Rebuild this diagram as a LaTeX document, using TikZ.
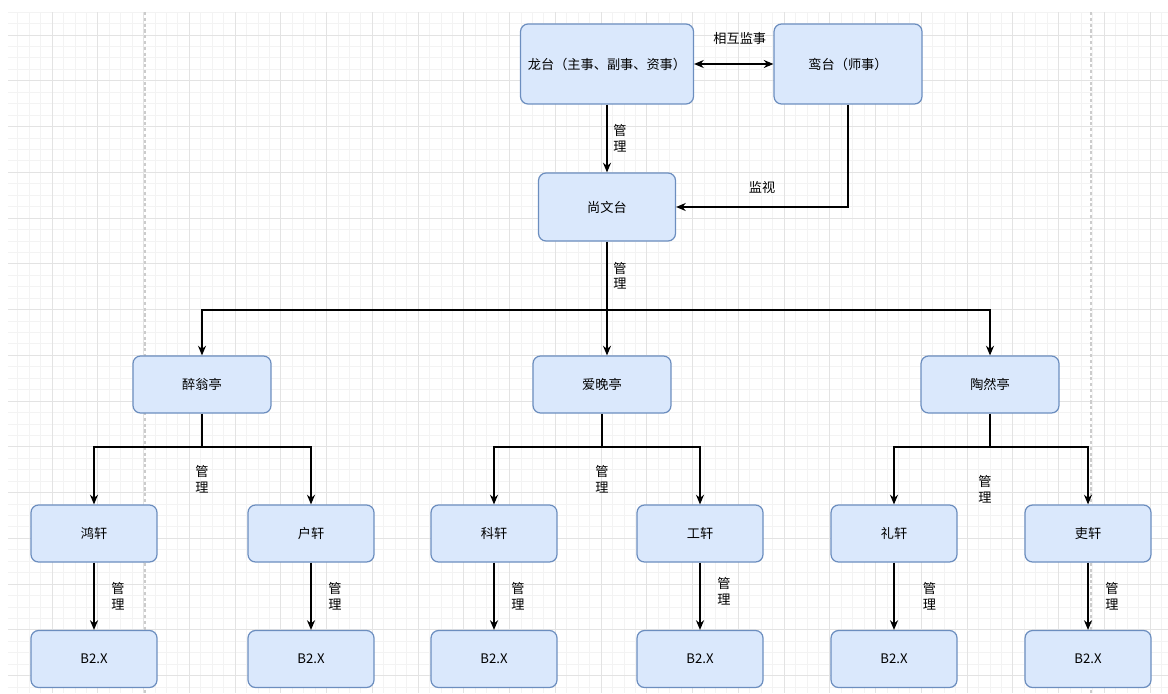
\documentclass[tikz,border=0pt]{standalone}
\usepackage{fontspec}
\setmainfont{Noto Sans CJK SC}
\usepackage{xcolor}
\usetikzlibrary{positioning,arrows.meta}
\definecolor{boxfill}{HTML}{DAE8FC}
\definecolor{boxline}{HTML}{6C8EBF}
\definecolor{gridminor}{HTML}{F3F3F3}
\definecolor{gridmajor}{HTML}{E3E3E3}
\definecolor{pageline}{HTML}{CCCCCC}
\tikzset{box/.style={rectangle,rounded corners=0.15cm,draw=boxline,fill=boxfill,line width=0.7pt,
    minimum width=2.52cm,minimum height=1.14cm,font=\fontsize{7.5pt}{9pt}\selectfont}}
\tikzset{ting/.style={box,minimum width=2.76cm}}
\tikzset{lbl/.style={align=center,font=\fontsize{7.5pt}{9pt}\selectfont}}
\tikzset{link/.style={line width=0.7pt}}

\begin{document}
\begin{tikzpicture}[>={Stealth[length=5.5pt,width=4.6pt]},x=0.02cm,y=-0.02cm]
    \useasboundingbox (0,0) rectangle (1168,693);
    % background grid
    \begin{scope}
    \clip (8,12) rectangle (1168,693);
    \foreach \i in {0,...,101}
        \draw[gridminor,line width=0.4pt] ({6.25+11.4375*\i},12) -- ({6.25+11.4375*\i},693);
    \foreach \j in {0,...,59}
        \draw[gridminor,line width=0.4pt] (8,{12.1+11.4375*\j}) -- (1168,{12.1+11.4375*\j});
    \foreach \i in {0,...,25}
        \draw[gridmajor,line width=0.5pt] ({6.25+45.75*\i},12) -- ({6.25+45.75*\i},693);
    \foreach \j in {1,...,15}
        \draw[gridmajor,line width=0.5pt] (8,{-10.75+45.75*\j}) -- (1168,{-10.75+45.75*\j});
    \draw[pageline,dash pattern=on 1.8pt off 1.5pt,line width=0.6pt] (145,12) -- (145,693);
    \draw[pageline,dash pattern=on 1.8pt off 1.5pt,line width=0.6pt] (1091,12) -- (1091,693);
    \end{scope}

    \node[box,minimum width=3.46cm,minimum height=1.6cm] (lt) at (607,64) {龙台（主事、副事、资事）};
    \node[box,minimum width=2.96cm,minimum height=1.6cm] (lu) at (848,64) {鸾台（师事）};
    \node[box,minimum width=2.74cm,minimum height=1.36cm] (sw) at (607,207) {尚文台};

    \node[ting] (zw) at (202,384.5) {醉翁亭};
    \node[ting] (aw) at (602,384.5) {爱晚亭};
    \node[ting] (tr) at (990,384.5) {陶然亭};

    \node[box] (hx) at (94,533.5) {鸿轩};
    \node[box] (hu) at (311,533.5) {户轩};
    \node[box] (kx) at (494,533.5) {科轩};
    \node[box] (gx) at (700,533.5) {工轩};
    \node[box] (lx) at (894,533.5) {礼轩};
    \node[box] (li) at (1088,533.5) {吏轩};

    \node[box] (b1) at (94,659) {B2.X};
    \node[box] (b2) at (311,659) {B2.X};
    \node[box] (b3) at (494,659) {B2.X};
    \node[box] (b4) at (700,659) {B2.X};
    \node[box] (b5) at (894,659) {B2.X};
    \node[box] (b6) at (1088,659) {B2.X};

    \coordinate (bus) at (607,310);
    \coordinate (zwbus) at (202,447);
    \coordinate (awbus) at (602,447);
    \coordinate (trbus) at (990,447);

    \draw[link,<->] (lt) -- node[lbl,above=0.26cm,xshift=0.12cm] (m0) {相互监事} (lu);
    \draw[link,->] (lt) -- node[lbl,right] (m1) {管\\理} (sw);
    \draw[link,->] (lu.south) |- node[lbl,pos=0.75,above=0.14cm] (m2) {监视} (sw.east);

    \draw[link] (sw) -- node[lbl,right] (m3) {管\\理} (bus);
    \draw[link,->] (bus) -| (zw.north);
    \draw[link,->] (bus) -- (aw.north -| bus);
    \draw[link,->] (bus) -| (tr.north);

    \draw[link] (zw) -- node[lbl,below=0.24cm,pos=1] (m4) {管\\理} (zwbus);
    \draw[link,->] (zwbus) -| (hx.north);
    \draw[link,->] (zwbus) -| (hu.north);
    \draw[link] (aw) -- node[lbl,below=0.24cm,pos=1] (m5) {管\\理} (awbus);
    \draw[link,->] (awbus) -| (kx.north);
    \draw[link,->] (awbus) -| (gx.north);
    \draw[link] (tr) -- node[lbl,below=0.44cm,pos=1,xshift=-0.1cm] (m6) {管\\理} (trbus);
    \draw[link,->] (trbus) -| (lx.north);
    \draw[link,->] (trbus) -| (li.north);

    \draw[link,->] (hx) -- node[lbl,right=0.22cm] (m7) {管\\理} (b1);
    \draw[link,->] (hu) -- node[lbl,right=0.22cm] (m8) {管\\理} (b2);
    \draw[link,->] (kx) -- node[lbl,right=0.22cm] (m9) {管\\理} (b3);
    \draw[link,->] (gx) -- node[lbl,right=0.22cm,yshift=0.1cm] (m10) {管\\理} (b4);
    \draw[link,->] (lx) -- node[lbl,right=0.45cm] (m11) {管\\理} (b5);
    \draw[link,->] (li) -- node[lbl,right=0.22cm] (m12) {管\\理} (b6);
\end{tikzpicture}
\end{document}
